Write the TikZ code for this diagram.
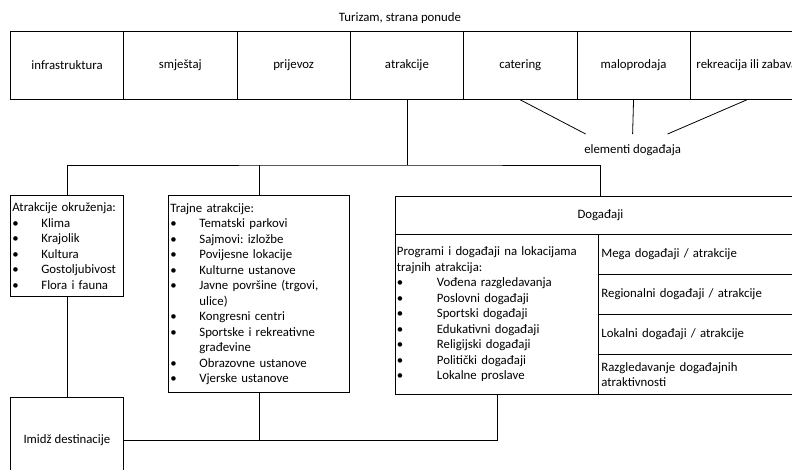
\documentclass[tikz,border=0pt]{standalone}
\usepackage{fontspec}
\setmainfont{Carlito}
\usetikzlibrary{positioning}
\frenchspacing

\newcommand{\fsz}{\fontsize{12.8}{15.5}\selectfont}
\newcommand{\bul}[2][29pt]{\makebox[#1][l]{\textbullet}#2}

\tikzset{
  box/.style={draw, line width=0.8pt, anchor=north west, inner sep=0pt, font=\fsz},
  lst/.style={box, align=left, inner xsep=2pt},
  conn/.style={line width=0.8pt}
}

\begin{document}
\begin{tikzpicture}[x=1pt, y=-1pt]
  \useasboundingbox (0,0) rectangle (792,469);

  % strana ponude
  \node[font=\fsz, inner sep=0pt] (title) at (400,18) {Turizam, strana ponude};
  \foreach \n/\t [count=\i from 0] in {infra/infrastruktura, smj/smještaj, prij/prijevoz,
      atr/atrakcije, cat/catering, mal/maloprodaja, rek/rekreacija ili zabava}
    \node[box, minimum width=113.3pt, minimum height=68pt] (\n) at ({10+113.3*\i},31) {\t};

  \node[font=\fsz, inner sep=0pt] (elem) at (632.6,150) {elementi događaja};
  \draw[conn] (cat.south) -- ([xshift=-47pt,yshift=16pt]elem.center);
  \draw[conn] (mal.south) -- ([yshift=16pt]elem.center);
  \draw[conn] (rek.south) -- ([xshift=35pt,yshift=16pt]elem.center);

  % atrakcije
  \node[lst, minimum width=113pt, minimum height=101pt, text width=109pt] (okr) at (10,195)
    {Atrakcije okruženja:\\
     \bul{Klima}\\
     \bul{Krajolik}\\
     \bul{Kultura}\\
     \bul{Gostoljubivost}\\
     \bul{Flora i fauna}};
  \node[lst, minimum width=181pt, minimum height=197pt, text width=177pt] (traj) at (168,195)
    {Trajne atrakcije:\\
     \bul{Tematski parkovi}\\
     \bul{Sajmovi: izložbe}\\
     \bul{Povijesne lokacije}\\
     \bul{Kulturne ustanove}\\
     \bul{Javne površine (trgovi,}\\
     \hspace*{29pt}ulice)\\
     \bul{Kongresni centri}\\
     \bul{Sportske i rekreativne}\\
     \hspace*{29pt}građevine\\
     \bul{Obrazovne ustanove}\\
     \bul{Vjerske ustanove}};

  % dogadjaji
  \node[box, minimum width=410pt, minimum height=38pt] (dog) at (395,196) {Događaji};
  \node[lst, minimum width=203pt, minimum height=160pt, text width=200pt, inner xsep=1.5pt] (prog) at (395,234)
    {Programi i događaji na lokacijama\\
     trajnih atrakcija:\\
     \bul[40pt]{Vođena razgledavanja}\\
     \bul[40pt]{Poslovni događaji}\\
     \bul[40pt]{Sportski događaji}\\
     \bul[40pt]{Edukativni događaji}\\
     \bul[40pt]{Religijski događaji}\\
     \bul[40pt]{Politički događaji}\\
     \bul[40pt]{Lokalne proslave}};
  \node[lst, minimum height=40pt, text width=201pt, inner xsep=3pt] (mega) at (598,234) {Mega događaji / atrakcije};
  \node[lst, minimum height=40pt, text width=201pt, inner xsep=3pt] (reg) at (598,274) {Regionalni događaji / atrakcije};
  \node[lst, minimum height=40pt, text width=201pt, inner xsep=3pt] (lok) at (598,314) {Lokalni događaji / atrakcije};
  \node[lst, minimum height=40pt, text width=201pt, inner xsep=3pt] (razg) at (598,354)
    {Razgledavanje događajnih\\atraktivnosti};

  \node[box, minimum width=113pt, minimum height=86pt] (imidz) at (10,397) {Imidž destinacije};

  % veze
  \coordinate (hub) at (atr.south |- 0,165);
  \draw[conn] (atr.south) -- (hub);
  \draw[conn] (okr.north) |- (hub) -| (dog.north);
  \draw[conn] (traj.north) -- (traj.north |- hub);
  \draw[conn] (okr.south) -- (imidz.north);
  \draw[conn] (imidz.east) -| (prog.south);
  \draw[conn] (traj.south) -- (traj.south |- imidz.east);
\end{tikzpicture}
\end{document}
